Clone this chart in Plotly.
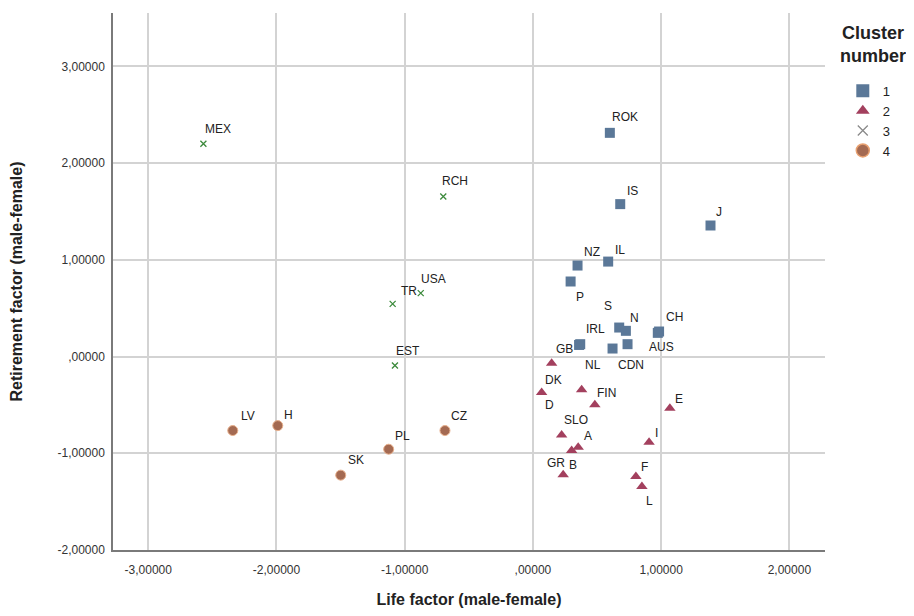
import plotly.graph_objects as go

# ── Data ──────────────────────────────────────────────────────
c1_labels = ["ROK", "IS", "J", "NZ", "IL", "P", "S", "N", "IRL", "GB", "NL", "CDN", "CH", "AUS"]
c1_life   = [0.600, 0.681, 1.385, 0.348, 0.587, 0.294, 0.673, 0.725, 0.369, 0.360, 0.621, 0.738, 0.984, 0.974]
c1_retire = [2.313, 1.576, 1.355, 0.941, 0.982, 0.776, 0.300, 0.266, 0.128, 0.120, 0.083, 0.128, 0.259, 0.245]

c2_labels = ["DK", "D", "", "FIN", "SLO", "A", "B", "GR", "E", "I", "F", "L"]
c2_life   = [0.146, 0.068, 0.380, 0.483, 0.224, 0.353, 0.302, 0.236, 1.068, 0.906, 0.803, 0.850]
c2_retire = [-0.068, -0.372, -0.344, -0.499, -0.810, -0.937, -0.972, -1.223, -0.534, -0.885, -1.241, -1.344]

c3_labels = ["MEX", "RCH", "TR", "USA", "EST"]
c3_life   = [-2.570, -0.699, -1.094, -0.875, -1.076]
c3_retire = [2.200, 1.655, 0.545, 0.656, -0.093]

c4_labels = ["LV", "H", "CZ", "PL", "SK"]
c4_life   = [-2.341, -1.990, -0.686, -1.125, -1.499]
c4_retire = [-0.765, -0.714, -0.765, -0.958, -1.226]

tick_vals_x = [-3, -2, -1, 0, 1, 2]
tick_text_x = ["-3,00000", "-2,00000", "-1,00000", ",00000", "1,00000", "2,00000"]
tick_vals_y = [-2, -1, 0, 1, 2, 3]
tick_text_y = ["-2,00000", "-1,00000", ",00000", "1,00000", "2,00000", "3,00000"]

# label offsets in pixels (dx right, dy down) – mimic SPSS placement
c1_off = [(15, -16), (12, -13), (8, -14), (14, -14), (12, -12), (9, 15), (-11, -22),
          (9, -13), (15, -15), (-15, 4), (-20, 16), (3, 21), (15, -15), (4, 14)]
c2_off = [(2, 17), (8, 12), (0, 0), (12, -12), (14, -15), (10, -11), (1, 14),
          (-7, -12), (9, -9), (7, -9), (9, -10), (8, 14)]
c3_off = [(15, -15), (12, -15), (16, -13), (13, -14), (13, -15)]
c4_off = [(15, -15), (11, -11), (14, -15), (14, -13), (15, -15)]

FONT = "Liberation Sans, Arial, sans-serif"

clusters = [
    dict(name="1", x=c1_life, y=c1_retire, t=c1_labels, off=c1_off,
         marker=dict(symbol="square", size=10, color="#5b7898"),
         legend_marker=dict(symbol="square", size=13, color="#5b7898")),
    dict(name="2", x=c2_life, y=c2_retire, t=c2_labels, off=c2_off,
         marker=dict(symbol="triangle-up", size=10, color="#a3405e"),
         legend_marker=dict(symbol="triangle-up", size=12, color="#a3405e")),
    dict(name="3", x=c3_life, y=c3_retire, t=c3_labels, off=c3_off,
         marker=dict(symbol="x-thin", size=6, line=dict(color="#3c8a3c", width=1.3)),
         legend_marker=dict(symbol="x-thin", size=10, line=dict(color="#8a8a8a", width=1.3))),
    dict(name="4", x=c4_life, y=c4_retire, t=c4_labels, off=c4_off,
         marker=dict(symbol="circle", size=10, color="#a46a52", line=dict(color="#e8b08c", width=1)),
         legend_marker=dict(symbol="circle", size=13, color="#a46a52", line=dict(color="#e8a070", width=1.5))),
]

fig = go.Figure()

for c in clusters:
    fig.add_trace(go.Scatter(
        x=c["x"], y=c["y"], mode="markers", marker=c["marker"],
        showlegend=False, hovertext=c["t"],
    ))
    # legend-only entry (SPSS draws the legend glyphs slightly differently)
    fig.add_trace(go.Scatter(
        x=[None], y=[None], mode="markers", marker=c["legend_marker"], name=c["name"],
    ))
    for xv, yv, lab, (dx, dy) in zip(c["x"], c["y"], c["t"], c["off"]):
        if not lab:
            continue
        fig.add_annotation(
            x=xv, y=yv, text=lab, showarrow=False,
            xshift=dx, yshift=-dy,
            font=dict(family=FONT, size=12, color="#222"),
        )

# legend title
fig.add_annotation(
    xref="paper", yref="paper", x=1.067, y=0.985, text="<b>Cluster<br>number</b>",
    showarrow=False, xanchor="center", yanchor="top",
    font=dict(family=FONT, size=18, color="#222"),
)

axis_common = dict(
    showgrid=True, gridcolor="#d3d3d3", gridwidth=1.5,
    zeroline=False, showline=True, linecolor="#7a7a7a", linewidth=1.5,
    tickfont=dict(family=FONT, size=12, color="#333"),
    ticks="", mirror=False, automargin=False,
)

fig.update_xaxes(
    range=[-3.275, 2.278], tickvals=tick_vals_x, ticktext=tick_text_x,
    title=dict(text="<b>Life factor (male-female)</b>",
               font=dict(family=FONT, size=16, color="#222"), standoff=24),
    ticklabelstandoff=8,
    **axis_common,
)
fig.update_yaxes(
    range=[-2.0, 3.552], tickvals=tick_vals_y, ticktext=tick_text_y,
    title=dict(text="<b>Retirement factor (male-female)</b>",
               font=dict(family=FONT, size=16, color="#222"), standoff=32),
    ticklabelstandoff=4,
    **axis_common,
)

# the page body adds an 8px margin all round, so the figure is sized to fit inside it
fig.update_layout(
    width=898, height=600,
    paper_bgcolor="white", plot_bgcolor="white",
    margin=dict(l=105, r=81, t=5, b=58, autoexpand=False),
    font=dict(family=FONT),
    legend=dict(
        x=1.025, xanchor="left", y=0.883, yanchor="top",
        font=dict(family=FONT, size=13, color="#222"),
        itemwidth=30, tracegroupgap=0,
        bgcolor="rgba(0,0,0,0)",
    ),
)

fig.write_html("out.html")
